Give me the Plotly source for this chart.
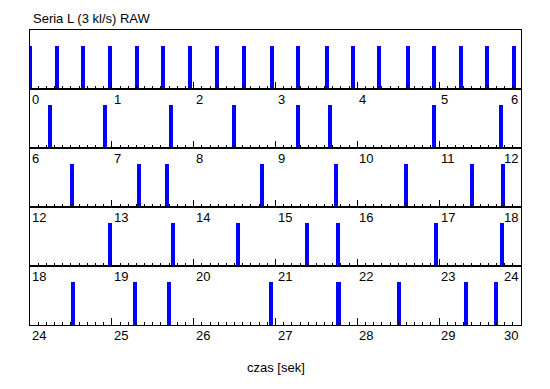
import plotly.graph_objects as go

# ---- data ----
title_text = "Seria L (3 kl/s) RAW"
xlabel_text = "czas [sek]"
row_seconds = 6
n_rows = 5
event_times = [
    0.00, 0.326, 0.644, 0.974, 1.312, 1.630, 1.956, 2.290, 2.620, 2.955,
    3.273, 3.627, 3.945, 4.267, 4.617, 4.935, 5.265, 5.583, 5.913,
    6.24, 6.92, 7.72, 8.49, 9.27, 9.67, 10.94, 11.76,
    12.51, 13.33, 13.67, 14.83, 15.74, 16.60, 17.40, 17.78,
    18.98, 19.75, 20.54, 21.39, 21.76, 22.96, 23.77,
    24.52, 25.28, 25.70, 26.94, 27.77, 28.51, 29.33, 29.69,
]
bar_height = 0.73

FONT = "Liberation Sans, Arial, sans-serif"
BLUE = "#0000ff"

fig = go.Figure()
layout = {}
annotations = []

for r in range(n_rows):
    k = r + 1
    xs = "" if k == 1 else str(k)
    lo = r * row_seconds
    hi = lo + row_seconds
    times = [t for t in event_times if lo <= t < hi]
    fig.add_trace(go.Bar(
        x=times, y=[bar_height] * len(times), width=0.05,
        marker=dict(color=BLUE, line=dict(width=0)),
        xaxis="x" + xs, yaxis="y" + xs, showlegend=False,
        cliponaxis=False, hoverinfo="x",
    ))
    top = 1 - r / n_rows
    bot = 1 - (r + 1) / n_rows
    layout["xaxis" + xs] = dict(
        domain=[0, 1], anchor="y" + xs, range=[lo, hi],
        showline=True, linecolor="black", linewidth=1, mirror=True,
        ticks="inside", tickvals=list(range(lo, hi + 1)), ticklen=7,
        tickcolor="black", tickwidth=1, showticklabels=False,
        showgrid=False, zeroline=False,
        minor=dict(ticks="inside", dtick=0.1, tick0=0, ticklen=3,
                   tickcolor="black", tickwidth=1, showgrid=False),
    )
    layout["yaxis" + xs] = dict(
        domain=[bot, top], anchor="x" + xs, range=[0, 1],
        showline=True, linecolor="black", linewidth=1, mirror=True,
        ticks="", showticklabels=False, showgrid=False, zeroline=False,
        fixedrange=True,
    )
    # half-second ticks via overlay axis
    ox = str(k + n_rows)
    layout["xaxis" + ox] = dict(
        overlaying="x" + xs, anchor="y" + xs, side="bottom", range=[lo, hi],
        ticks="inside", tickvals=[v + 0.5 for v in range(lo, hi)], ticklen=5,
        tickcolor="black", tickwidth=1, showticklabels=False,
        showline=False, showgrid=False, zeroline=False,
    )
    for v in range(lo, hi + 1):
        annotations.append(dict(
            x=v, y=0, xref="x" + xs, yref="y" + xs + " domain" if xs else "y domain",
            text=str(v), showarrow=False,
            xanchor="right" if v == hi else "left", yanchor="top",
            xshift=-1 if v == hi else 0, yshift=-1,
            font=dict(family=FONT, size=13, color="black"),
        ))

annotations.append(dict(
    x=0, y=1, xref="paper", yref="paper", text=title_text, showarrow=False,
    xanchor="left", yanchor="bottom", xshift=1, yshift=2,
    font=dict(family=FONT, size=13, color="black"),
))
annotations.append(dict(
    x=0.5, y=0, xref="paper", yref="paper", text=xlabel_text, showarrow=False,
    xanchor="center", yanchor="middle", yshift=-42,
    font=dict(family=FONT, size=13, color="black"),
))

# page body has an 8px margin, so the figure is offset by (8, 8)
fig.update_layout(
    width=542, height=381,
    margin=dict(l=22, r=29, t=22, b=64),
    paper_bgcolor="white", plot_bgcolor="white",
    bargap=0, annotations=annotations, showlegend=False,
    font=dict(family=FONT, size=13, color="black"),
    **layout,
)

fig.write_html("out.html")
